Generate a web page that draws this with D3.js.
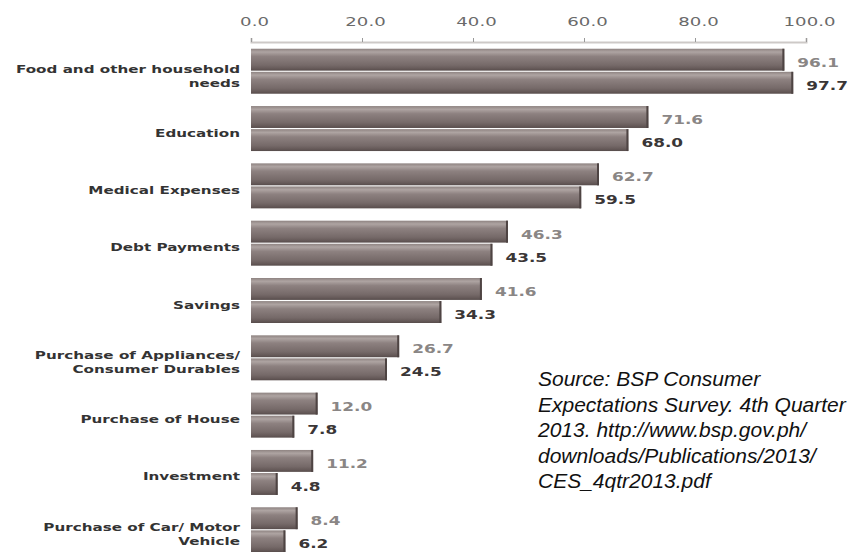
<!DOCTYPE html>
<html>
<head>
<meta charset="utf-8">
<script src="https://cdn.jsdelivr.net/npm/d3@7"></script>
<style>
  body { margin: 0; background: #fff; }
  svg { display: block; }
</style>
</head>
<body>
<svg id="chart" width="851" height="552"></svg>
<script>
// Data
const categories = [
    ['Food and other household', 'needs'],
    ['Education'],
    ['Medical Expenses'],
    ['Debt Payments'],
    ['Savings'],
    ['Purchase of Appliances/', 'Consumer Durables'],
    ['Purchase of House'],
    ['Investment'],
    ['Purchase of Car/ Motor', 'Vehicle']
];
const seriesTop = [96.1, 71.6, 62.7, 46.3, 41.6, 26.7, 12.0, 11.2, 8.4];
const seriesBottom = [97.7, 68.0, 59.5, 43.5, 34.3, 24.5, 7.8, 4.8, 6.2];
const tickValues = [0, 20, 40, 60, 80, 100];
const sourceLines = [
    'Source: BSP Consumer',
    'Expectations Survey. 4th Quarter',
    '2013. http://www.bsp.gov.ph/',
    'downloads/Publications/2013/',
    'CES_4qtr2013.pdf'
];

const svg = d3.select('#chart');

// Scales
let x = d3.scaleLinear().domain([0, 100]).range([251, 806]);
let y = d3.scaleBand()
    .domain(d3.range(categories.length))
    .range([43, 558])
    .paddingInner(0.215)
    .paddingOuter(0.1);
let ySub = d3.scaleBand().domain([0, 1]).range([0, y.bandwidth()]).paddingInner(0.05);

// Gradient for the bars
let defs = svg.append('defs');
let grad = defs.append('linearGradient')
    .attr('id', 'bar-grad')
    .attr('x1', '0').attr('x2', '0').attr('y1', '0').attr('y2', '1');
[
    { offset: '0', color: '#8e8381' },
    { offset: '0.15', color: '#aea4a2' },
    { offset: '0.35', color: '#8d8180' },
    { offset: '0.75', color: '#766a69' },
    { offset: '0.9', color: '#665a59' },
    { offset: '1', color: '#574c4b' }
].forEach((d) => grad.append('stop').attr('offset', d.offset).attr('stop-color', d.color));

// Axis on top
let axis = d3.axisTop(x)
    .tickValues(tickValues)
    .tickSize(4)
    .tickFormat(d3.format('.1f'));
let axisG = svg.append('g')
    .attr('transform', 'translate(0,42)')
    .call(axis);
axisG.select('.domain').attr('stroke', '#cdc9c7').attr('stroke-width', 2);
axisG.selectAll('.tick line').attr('stroke', '#999');
axisG.selectAll('.tick text')
    .attr('y', 0)
    .attr('dy', 0)
    .attr('transform', 'translate(3,-16) scale(1.45,1)')
    .attr('fill', '#6a6a6a')
    .attr('font-family', 'DejaVu Sans')
    .attr('font-size', 12.5);

// Bars
let rows = categories.map((c, i) => ({
    i: i,
    label: c,
    values: [seriesTop[i], seriesBottom[i]]
}));

let group = svg.append('g')
    .selectAll('g.row')
    .data(rows)
    .enter()
    .append('g')
    .attr('class', 'row')
    .attr('transform', (d) => 'translate(0,' + y(d.i) + ')');

group.selectAll('rect')
    .data((d) => d.values.map((v, k) => ({ v: v, k: k })))
    .enter()
    .append('rect')
    .attr('x', x(0))
    .attr('y', (d) => ySub(d.k))
    .attr('width', (d) => x(d.v) - x(0))
    .attr('height', ySub.bandwidth())
    .attr('fill', 'url(#bar-grad)');

// Darker right edge of each bar
group.selectAll('line.edge')
    .data((d) => d.values.map((v, k) => ({ v: v, k: k })))
    .enter()
    .append('line')
    .attr('class', 'edge')
    .attr('x1', (d) => x(d.v) - 1)
    .attr('x2', (d) => x(d.v) - 1)
    .attr('y1', (d) => ySub(d.k))
    .attr('y2', (d) => ySub(d.k) + ySub.bandwidth())
    .attr('stroke', '#4e4443')
    .attr('stroke-width', 2);

// Value labels
group.selectAll('text.value')
    .data((d) => d.values.map((v, k) => ({ v: v, k: k })))
    .enter()
    .append('text')
    .attr('class', 'value')
    .attr('transform', (d) => `translate(${x(d.v) + 13},${ySub(d.k) + ySub.bandwidth() / 2 + 7}) scale(1.3,1)`)
    .attr('font-family', 'DejaVu Sans')
    .attr('font-weight', 'bold')
    .attr('font-size', 13)
    .attr('fill', (d) => (d.k === 0 ? '#8a8685' : '#3a3636'))
    .text((d) => d3.format('.1f')(d.v));

// Category labels
group.append('text')
    .attr('class', 'cat')
    .attr('text-anchor', 'end')
    .attr('font-family', 'DejaVu Sans')
    .attr('font-weight', 'bold')
    .attr('font-size', 11)
    .attr('fill', '#333')
    .each(function (d) {
        let t = d3.select(this);
        let n = d.label.length;
        let mid = y.bandwidth() / 2;
        t.attr('transform', `translate(240,${mid - (n - 1) * 6.5 + 8}) scale(1.38,1)`);
        d.label.forEach((line, j) => {
            t.append('tspan').attr('x', 0).attr('dy', j === 0 ? 0 : 14).text(line);
        });
    });

// Source note
svg.append('text')
    .attr('font-family', 'Liberation Sans')
    .attr('font-style', 'italic')
    .attr('font-size', 21)
    .attr('fill', '#111')
    .selectAll('tspan')
    .data(sourceLines)
    .enter()
    .append('tspan')
    .attr('x', 538)
    .attr('y', (d, i) => 386 + i * 25.5)
    .text((d) => d);
</script>
</body>
</html>
